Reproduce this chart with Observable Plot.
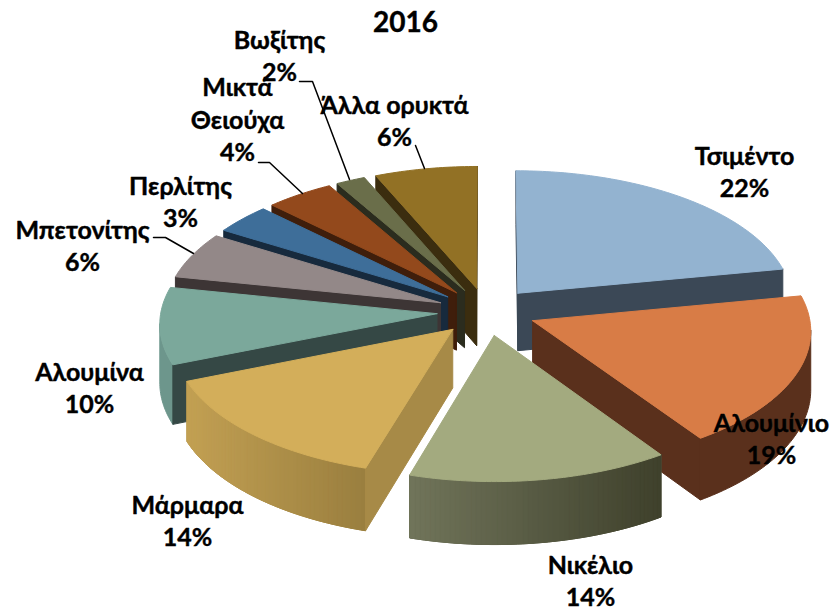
<!DOCTYPE html>
<html>
<head>
<meta charset="utf-8">
<style>html,body{margin:0;padding:0;background:#fff}svg{display:block}</style>
<script src="https://cdn.jsdelivr.net/npm/d3@7"></script>
<script src="https://cdn.jsdelivr.net/npm/@observablehq/plot@0.6"></script>
</head>
<body>
<div id="chart"></div>
<script>
const title = "2016";
const categories = ["Τσιμέντο","Αλουμίνιο","Νικέλιο","Μάρμαρα","Αλουμίνα","Μπετονίτης","Περλίτης","Μικτά\nΘειούχα","Βωξίτης","Άλλα ορυκτά"];
// percentages as printed on the labels
const shares = [22,19,14,14,10,6,3,4,2,6];
const drawnShares = [22,18.5,14.1,14.3,9.3,5.6,3.6,4.3,1.85,6.45];

const topColors  = ["#93b3d0","#d87c46","#a3aa7f","#d3ae5a","#7ba89b","#938888","#3e6e99","#93491c","#6a6e4a","#927125"];
const sideColors = ["#3b4856","#5a301c","#45472f","#a78a47","#354845","#3d3535","#172a3d","#3f1e0b","#2b2c1e","#3b2d0f"];
const arcLeft    = ["#3b4856","#5a301c","#70745a","#c2a053","#6d968c","#3d3535","#172a3d","#3f1e0b","#2b2c1e","#3b2d0f"];
const arcRight   = ["#3b4856","#5a301c","#3f412c","#9a7f3f","#6d968c","#3d3535","#172a3d","#3f1e0b","#2b2c1e","#3b2d0f"];

// back-to-front painting order (indices into categories)
const paintOrder = [9,8,7,6,5,4,0,3,1,2];

// label block centres and leader lines (chart units)
const labelX = [744,771,590,187,89,82,180,237,279,394];
const labelY = [170,437,579,519,386,244,200,118,54,119];
const leaders = [
  {i:5, pts:[[153,237],[165,237],[193,253]]},
  {i:7, pts:[[258,162],[269,162],[302,193]]},
  {i:8, pts:[[299,81],[312,81],[349,179]]},
  {i:9, pts:[[415,145],[424,168]]}
];

// 3D pie projection
const cx = 486, cy = 311, W = 276, T = 133, H = 58, persp = 0.067, explode = 0.18;
const project = (u, v, h) => {
  const s = 1 / (1 - persp * v);
  return [cx + W * u * s, cy + (T * v + H * h) * s];
};

const total = d3.sum(drawnShares);
const cum = d3.cumsum(drawnShares);
const polys = [];
let pid = 0;
const addPoly = (pts, color) => {
  const id = pid++;
  for (const [x, y] of [...pts, pts[0]]) polys.push({id, x, y, color});
};

for (const i of paintOrder) {
  const a0 = ((cum[i] - drawnShares[i]) / total) * 2 * Math.PI;
  const a1 = (cum[i] / total) * 2 * Math.PI;
  const mid = (a0 + a1) / 2;
  const ou = explode * Math.sin(mid), ov = -explode * Math.cos(mid);
  const at = (a, h) => project(ou + Math.sin(a), ov - Math.cos(a), h);
  const apex = h => project(ou, ov, h);
  const n = Math.max(2, Math.ceil((a1 - a0) / (Math.PI / 180)));
  const angles = d3.range(n + 1).map(k => a0 + (a1 - a0) * k / n);
  const quad = (p, q, color) => addPoly([p(0), q(0), q(1), p(1)], color);

  // outer wall: one solid underlay, then gradient strips where the wall is shaded
  const vis = [];
  for (let k = 0; k < n; k++) {
    if (at(angles[k], 0)[0] > at(angles[k + 1], 0)[0]) vis.push(k);
  }
  if (vis.length) {
    const shade = d3.interpolateRgb(arcLeft[i], arcRight[i]);
    const edge = [...vis, vis[vis.length - 1] + 1].map(k => angles[k]);
    addPoly([...edge.map(a => at(a, 0)), ...edge.slice().reverse().map(a => at(a, 1))], shade(0.5));
    if (arcLeft[i] !== arcRight[i]) {
      const xs = vis.map(k => at(angles[k], 0)[0]);
      const xMin = d3.min(xs), xMax = d3.max(xs);
      for (const k of vis) {
        const t = (at(angles[k], 0)[0] - xMin) / (xMax - xMin);
        quad(h => at(angles[k], h), h => at(angles[k + 1], h), shade(t));
      }
    }
  }
  // radial side walls: only those facing the viewer (boundary running leftwards on screen)
  const startW = [apex, h => at(a0, h)];
  const endW = [h => at(a1, h), apex];
  for (const [p, q] of [startW, endW]) {
    if (p(0)[0] > q(0)[0]) quad(p, q, sideColors[i]);
  }
  // top face
  addPoly([apex(0), ...angles.map(a => at(a, 0))], topColors[i]);
}

const labels = categories.map((c, i) => ({text: `${c}\n${shares[i]}%`, x: labelX[i], y: labelY[i]}));
const leaderRows = leaders.flatMap(l => l.pts.map(([x, y]) => ({i: l.i, x, y})));
const font = "Lato, 'Noto Sans', sans-serif";

const chart = Plot.plot({
  width: 837,
  height: 613,
  margin: 0,
  x: {domain: [0, 837], range: [0, 837], axis: null},
  y: {domain: [0, 613], range: [0, 613], axis: null},
  color: {type: "identity"},
  style: {background: "#fff"},
  marks: [
    Plot.line(polys, {x: "x", y: "y", z: "id", fill: "color", stroke: "color", strokeWidth: 1, curve: "linear"}),
    Plot.line(leaderRows, {x: "x", y: "y", z: "i", stroke: "#000", strokeWidth: 1.5, curve: "linear"}),
    Plot.text(labels, {x: "x", y: "y", text: "text", fontFamily: font, fontWeight: 700, fontSize: 25, lineHeight: 1.3, fill: "#000", stroke: "#000", strokeWidth: 0.4, paintOrder: "normal"}),
    Plot.text([title], {x: () => 405, y: () => 23, text: d => d, fontFamily: font, fontWeight: 700, fontSize: 28, fill: "#000", stroke: "#000", strokeWidth: 0.4, paintOrder: "normal"})
  ]
});
document.getElementById("chart").append(chart);
</script>
</body>
</html>
